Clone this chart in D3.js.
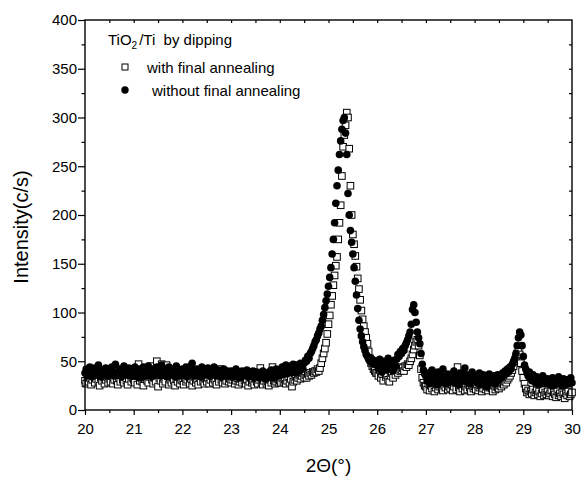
<!DOCTYPE html>
<html>
<head>
<meta charset="utf-8">
<script src="https://cdn.jsdelivr.net/npm/d3@7"></script>
<style>
  body { margin: 0; background: #fff; }
  svg { display: block; }
  text { font-family: "Liberation Sans", Arial, sans-serif; fill: #000; }
</style>
</head>
<body>
<svg id="chart" width="583" height="478"></svg>
<script>
// XRD scan: 2θ from 20° to 30° in 0.025° steps
const scanStart = 20;
const scanStep = 0.025;

// Intensity (c/s), TiO2/Ti by dipping, with final annealing (open squares)
const withAnnealing = [
  30,27,34,29,33,26,31,35,28,32,36,29,25,33,30,38,27,31,34,28,
  32,29,35,27,31,42,30,26,33,29,37,31,28,34,30,26,32,36,29,33,
  31,28,35,26,47,30,33,29,25,32,36,30,28,34,45,31,27,33,29,50,
  24,33,30,47,27,32,29,46,35,26,31,28,33,30,25,32,29,34,27,31,
  30,26,33,29,31,36,27,32,25,30,34,28,31,26,33,29,35,30,27,32,
  29,33,27,31,35,28,32,30,26,34,29,42,31,28,33,27,30,35,29,32,
  28,31,34,27,30,33,26,29,32,28,35,30,27,31,25,29,33,28,30,26,
  32,29,27,31,43,28,26,30,33,27,29,25,31,28,44,30,27,29,32,28,
  30,28,33,29,31,27,30,34,28,32,24,29,31,34,30,33,36,32,35,38,
  33,36,33,37,35,38,36,39,38,40,39,42,40,43,48,53,58,63,69,78,
  88,97,108,117,128,138,148,157,175,192,210,240,270,282,292,305,300,268,230,200,
  180,170,158,147,135,124,113,102,93,86,80,74,68,60,53,48,45,42,40,38,
  38,35,41,33,37,30,39,34,36,31,29,35,38,33,40,36,42,38,44,40,
  41,43,40,45,44,47,46,50,53,57,62,66,70,72,66,56,42,33,28,25,
  24,21,27,20,25,22,29,19,23,26,21,24,38,22,20,25,23,27,21,24,
  22,26,20,24,28,21,44,23,19,25,22,27,20,24,21,26,23,19,25,22,
  24,21,26,20,23,25,19,22,27,21,24,20,23,26,22,19,25,21,24,23,
  22,25,24,27,26,29,28,31,33,35,38,41,45,50,54,58,60,57,48,40,
  33,27,22,18,20,16,19,17,21,15,18,20,16,19,14,17,21,15,18,16,
  19,15,17,20,14,18,16,13,19,15,17,14,18,16,12,17,15,19,14,16,18
];

// Intensity (c/s), without final annealing (filled circles)
const withoutAnnealing = [
  38,42,35,40,44,36,34,41,43,37,39,46,36,34,41,40,36,43,38,35,
  41,37,44,39,35,47,38,36,42,40,34,39,45,37,41,36,43,38,35,42,
  39,44,36,34,40,42,33,37,44,41,35,38,45,36,40,34,42,39,36,44,
  37,41,35,46,39,36,42,34,40,44,38,36,42,39,34,45,37,41,35,40,
  42,36,39,44,34,38,41,45,48,37,35,40,42,36,39,34,44,38,41,36,
  39,43,36,35,41,38,44,37,35,40,41,36,34,39,42,37,35,40,38,35,
  40,36,34,38,42,35,39,33,37,40,35,38,36,41,34,39,35,37,40,33,
  36,39,34,33,38,35,40,33,37,32,36,39,34,41,37,33,38,42,35,40,
  41,36,44,38,40,46,37,42,39,45,41,47,43,38,46,44,40,48,45,42,
  48,51,50,55,53,58,60,63,66,70,72,76,79,83,86,92,98,105,112,119,
  127,136,146,160,175,192,212,230,246,262,276,288,297,300,284,262,222,200,184,172,
  160,146,132,118,104,92,83,76,70,65,61,57,55,52,50,53,48,51,47,50,
  48,42,52,45,39,50,44,47,41,53,46,43,49,40,51,45,52,57,55,60,
  58,63,61,66,69,72,76,80,88,103,108,100,90,80,74,68,58,47,41,37,
  35,30,38,27,33,41,29,36,31,26,39,33,28,35,42,30,34,27,37,32,
  29,36,33,40,28,35,31,26,38,34,30,37,43,29,33,36,27,31,39,34,
  30,35,28,33,38,26,32,36,29,34,24,31,37,28,33,30,35,27,32,36,
  31,35,33,38,36,40,37,42,39,44,42,47,50,53,58,66,74,80,77,66,
  55,46,42,38,35,39,33,30,36,31,28,34,30,26,33,29,35,27,31,28,
  32,27,30,25,33,29,26,31,28,34,27,30,25,32,28,26,31,29,27,33,28
];

const xMajorTicks = [20, 21, 22, 23, 24, 25, 26, 27, 28, 29, 30];
const xMinorTicks = [20.5, 21.5, 22.5, 23.5, 24.5, 25.5, 26.5, 27.5, 28.5, 29.5];
const yMajorTicks = [0, 50, 100, 150, 200, 250, 300, 350, 400];
const yMinorTicks = [25, 75, 125, 175, 225, 275, 325, 375];
const seriesNames = ["with final annealing", "without final annealing"];
const xTitle = "2\u0398(\u00b0)";
const yTitle = "Intensity(c/s)";

const svg = d3.select("#chart");
const plot = { left: 85, right: 572, top: 20, bottom: 410 };

const x = d3.scaleLinear().domain([20, 30]).range([plot.left, plot.right]);
const y = d3.scaleLinear().domain([0, 400]).range([plot.bottom, plot.top]);

const toPoints = arr => arr.map((v, i) => ({ t: scanStart + i * scanStep, v }));
const ptsA = toPoints(withAnnealing);
const ptsB = toPoints(withoutAnnealing);

// data markers: open squares underneath, filled circles on top
const gData = svg.append("g");
const sq = 6.6;
gData.selectAll("rect.a").data(ptsA).join("rect")
  .attr("class", "a")
  .attr("x", d => x(d.t) - sq / 2)
  .attr("y", d => y(d.v) - sq / 2)
  .attr("width", sq).attr("height", sq)
  .attr("fill", "#fff").attr("stroke", "#000").attr("stroke-width", 1);
gData.selectAll("circle.b").data(ptsB).join("circle")
  .attr("class", "b")
  .attr("cx", d => x(d.t))
  .attr("cy", d => y(d.v))
  .attr("r", 3.8)
  .attr("fill", "#000");

// axes
const fontSize = 15;
function styleAxis(g) {
  g.select(".domain").remove();
  g.selectAll(".tick line").attr("stroke", "#000").attr("stroke-width", 1.2);
  g.selectAll(".tick text").attr("font-size", fontSize)
    .style("font-family", "'Liberation Sans', Arial, sans-serif").attr("fill", "#000");
}

svg.append("g").attr("transform", `translate(0,${plot.bottom})`)
  .call(d3.axisBottom(x).tickValues(xMajorTicks).tickSize(5).tickPadding(8).tickFormat(d3.format("d")))
  .call(styleAxis);
svg.append("g").attr("transform", `translate(0,${plot.bottom})`)
  .call(d3.axisBottom(x).tickValues(xMinorTicks).tickSize(3).tickFormat(""))
  .call(styleAxis);
svg.append("g").attr("transform", `translate(${plot.left},0)`)
  .call(d3.axisLeft(y).tickValues(yMajorTicks).tickSize(7).tickPadding(1).tickFormat(d3.format("d")))
  .call(styleAxis);
svg.append("g").attr("transform", `translate(${plot.left},0)`)
  .call(d3.axisLeft(y).tickValues(yMinorTicks).tickSize(3.5).tickFormat(""))
  .call(styleAxis);
svg.append("g").attr("transform", `translate(0,${plot.top})`)
  .call(d3.axisTop(x).tickValues(xMinorTicks.concat(xMajorTicks.slice(1, -1))).tickSize(-3).tickFormat(""))
  .call(styleAxis);
svg.append("g").attr("transform", `translate(${plot.right},0)`)
  .call(d3.axisRight(y).tickValues(yMinorTicks.concat(yMajorTicks.slice(1, -1))).tickSize(-3).tickFormat(""))
  .call(styleAxis);

// frame
svg.append("rect")
  .attr("x", plot.left).attr("y", plot.top)
  .attr("width", plot.right - plot.left).attr("height", plot.bottom - plot.top)
  .attr("fill", "none").attr("stroke", "#000").attr("stroke-width", 1.4);

// axis titles
svg.append("text")
  .attr("x", (plot.left + plot.right) / 2).attr("y", 472)
  .attr("text-anchor", "middle").attr("font-size", 19)
  .text(xTitle);
svg.append("text")
  .attr("transform", "translate(28,227) rotate(-90)")
  .attr("text-anchor", "middle").attr("font-size", 20)
  .text(yTitle);

// legend
const lg = svg.append("g");
const title = lg.append("text").attr("x", 108).attr("y", 45)
  .attr("font-size", fontSize).style("white-space", "pre");
title.append("tspan").text("TiO");
title.append("tspan").attr("font-size", 10).attr("dy", 4).text("2");
title.append("tspan").attr("dy", -4).attr("dx", 2).text("/Ti  by dipping");

lg.append("rect").attr("x", 122).attr("y", 64).attr("width", 6).attr("height", 6)
  .attr("fill", "#fff").attr("stroke", "#000").attr("stroke-width", 1);
lg.append("text").attr("x", 147).attr("y", 73)
  .attr("font-size", fontSize).text(seriesNames[0]);
lg.append("circle").attr("cx", 125).attr("cy", 90).attr("r", 3.7).attr("fill", "#000");
lg.append("text").attr("x", 152).attr("y", 96)
  .attr("font-size", fontSize).text(seriesNames[1]);
</script>
</body>
</html>
